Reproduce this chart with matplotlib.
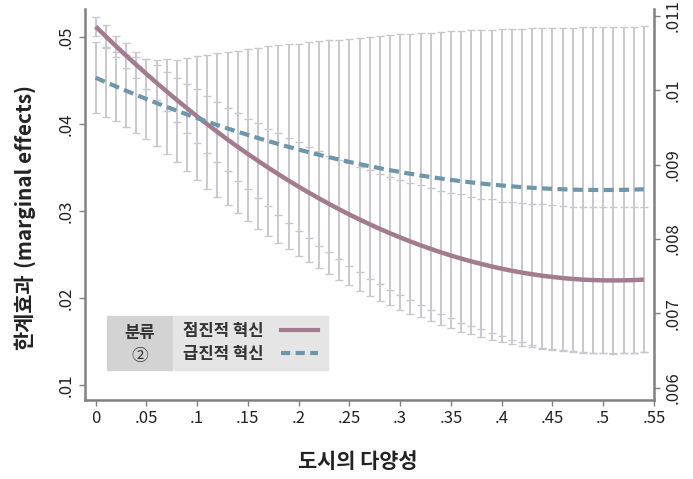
import numpy as np
import matplotlib.pyplot as plt
from matplotlib.patches import Rectangle
from matplotlib.lines import Line2D

plt.rcParams['font.family'] = ['Noto Sans CJK KR', 'DejaVu Sans']

# x values: urban diversity
diversity = np.round(np.arange(0, 0.545, 0.01), 2)

# incremental innovation (left axis)
incremental = [
    .05120, .05007, .04895, .04787, .04680, .04576, .04473, .04374, .04276, .04181,
    .04087, .03996, .03908, .03821, .03737, .03655, .03576, .03498, .03423, .03350,
    .03279, .03211, .03145, .03081, .03019, .02959, .02902, .02847, .02794, .02744,
    .02696, .02650, .02606, .02565, .02525, .02488, .02453, .02421, .02391, .02363,
    .02337, .02313, .02292, .02273, .02256, .02242, .02229, .02219, .02211, .02206,
    .02203, .02202, .02203, .02206, .02212]
incremental_ci = [
    .0011, .0013, .0012, .0014, .0015, .0017, .0020, .0022, .0025, .0028,
    .0031, .0033, .0034, .0036, .0039, .0040, .0043, .0044, .0047, .0049,
    .0051, .0052, .0055, .0055, .0057, .0059, .0060, .0063, .0063, .0065,
    .0066, .0067, .0069, .0070, .0071, .0072, .0074, .0074, .0075, .0077,
    .0077, .0079, .0080, .0081, .0083, .0083, .0083, .0083, .0084, .0084,
    .0084, .0084, .0084, .0084, .0083]

# radical innovation (right axis)
radical = [
    .010170, .010110, .010052, .009994, .009938, .009883, .009829, .009776, .009725, .009675,
    .009626, .009578, .009531, .009486, .009442, .009399, .009357, .009317, .009277, .009239,
    .009202, .009167, .009132, .009099, .009067, .009036, .009006, .008978, .008951, .008925,
    .008900, .008876, .008854, .008833, .008813, .008794, .008777, .008760, .008745, .008731,
    .008719, .008707, .008697, .008688, .008680, .008673, .008668, .008663, .008660, .008659,
    .008658, .008659, .008660, .008663, .008668]
radical_ci = [
    .000478, .000471, .000464, .000485, .000511, .000532, .000579, .000639, .000686, .000760,
    .000834, .000902, .000969, .001023, .001090, .001157, .001218, .001279, .001332, .001380,
    .001427, .001480, .001528, .001575, .001615, .001655, .001703, .001743, .001783, .001817,
    .001851, .001884, .001911, .001938, .001972, .001999, .002026, .002046, .002066, .002086,
    .002106, .002120, .002133, .002147, .002160, .002167, .002174, .002180, .002187, .002194,
    .002194, .002194, .002194, .002194, .002194]

xticks = [0, .05, .1, .15, .2, .25, .3, .35, .4, .45, .5, .55]
xticklabels = ['0', '.05', '.1', '.15', '.2', '.25', '.3', '.35', '.4', '.45', '.5', '.55']
lticks = [.01, .02, .03, .04, .05]
lticklabels = ['.01', '.02', '.03', '.04', '.05']
rticks = [.006, .007, .008, .009, .01, .011]
rticklabels = ['.006', '.007', '.008', '.009', '.01', '.011']

c_inc = '#a27b8e'
c_rad = '#6d96aa'
c_bar = '#c8c8ce'
c_axis = '#808080'
W, H = 693, 479

fig = plt.figure(figsize=(6.93, 4.79), dpi=100)
ax = fig.add_axes([85 / W, 79 / H, (654 - 85) / W, (400 - 9) / H])
ax2 = ax.twinx()

ax.set_xlim(-0.0105, 0.55)
ax.set_ylim(0.008276, 0.05322)
ax2.set_ylim(0.005832, 0.011094)

bar_kw = dict(fmt='none', ecolor=c_bar, elinewidth=1.4, capsize=3.2, capthick=1.0)
ax.errorbar(diversity, incremental, yerr=incremental_ci, **bar_kw)
ax2.errorbar(diversity, radical, yerr=radical_ci, **bar_kw)

# lines on top of all error bars
ax3 = ax.twinx()
ax3.set_ylim(ax.get_ylim())
ax3.plot(diversity, incremental, color=c_inc, lw=3.2, solid_capstyle='butt')
ax3.axis('off')
ax4 = ax.twinx()
ax4.set_ylim(ax2.get_ylim())
ax4.plot(diversity, radical, color=c_rad, lw=3.0, dashes=(2.4, 1.3))
ax4.axis('off')

for s in ['top', 'right']:
    ax.spines[s].set_visible(False)
for s in ['top', 'left', 'bottom']:
    ax2.spines[s].set_visible(False)
for sp in [ax.spines['left'], ax.spines['bottom'], ax2.spines['right']]:
    sp.set_color(c_axis)
    sp.set_linewidth(1.8)

ax.set_xticks(xticks)
ax.set_xticklabels(xticklabels)
ax.set_yticks(lticks)
ax.set_yticklabels(lticklabels, rotation=90, va='center')
ax2.set_yticks(rticks)
ax2.set_yticklabels(rticklabels, rotation=90, va='center')
for a in [ax, ax2]:
    a.tick_params(length=4.5, width=1.0, color=c_axis, labelsize=12,
                  labelcolor='#222222', pad=3)

# y label: Korean part + English part
t1 = fig.text(25 / W, 1 - 350 / H, '한계효과', rotation=90, fontsize=15,
              fontweight='bold', ha='center', va='bottom', color='#222222')
fig.canvas.draw()
bb = t1.get_window_extent()
fig.text(25 / W, (bb.y1 + 5) / H, '(marginal effects)', rotation=90, fontsize=15,
         fontweight='bold', ha='center', va='bottom', color='#222222')

fig.text(358 / W, 1 - 462 / H, '도시의 다양성', fontsize=15, fontweight='bold',
         ha='center', va='center', color='#222222')

# legend box
fig.patches.append(Rectangle((107 / W, 1 - 370 / H), 66 / W, 54 / H,
                             transform=fig.transFigure, color='#d3d3d3'))
fig.patches.append(Rectangle((173 / W, 1 - 370 / H), 155 / W, 54 / H,
                             transform=fig.transFigure, color='#e5e5e5'))
fig.text(140 / W, 1 - 333 / H, '분류', fontsize=12, fontweight='bold',
         ha='center', va='center', color='#333333')
fig.text(140 / W, 1 - 356 / H, '②', fontsize=12, ha='center', va='center',
         color='#333333')
fig.text(183 / W, 1 - 331 / H, '점진적 혁신', fontsize=12, fontweight='bold',
         ha='left', va='center', color='#333333')
fig.text(183 / W, 1 - 354 / H, '급진적 혁신', fontsize=12, fontweight='bold',
         ha='left', va='center', color='#333333')
fig.lines.append(Line2D([281 / W, 318 / W], [1 - 330 / H, 1 - 330 / H],
                        transform=fig.transFigure, color=c_inc, lw=3.0))
fig.lines.append(Line2D([281 / W, 318 / W], [1 - 353 / H, 1 - 353 / H],
                        transform=fig.transFigure, color=c_rad, lw=3.0,
                        dashes=(2.2, 1.3)))

fig.savefig('out.png', dpi=100)
